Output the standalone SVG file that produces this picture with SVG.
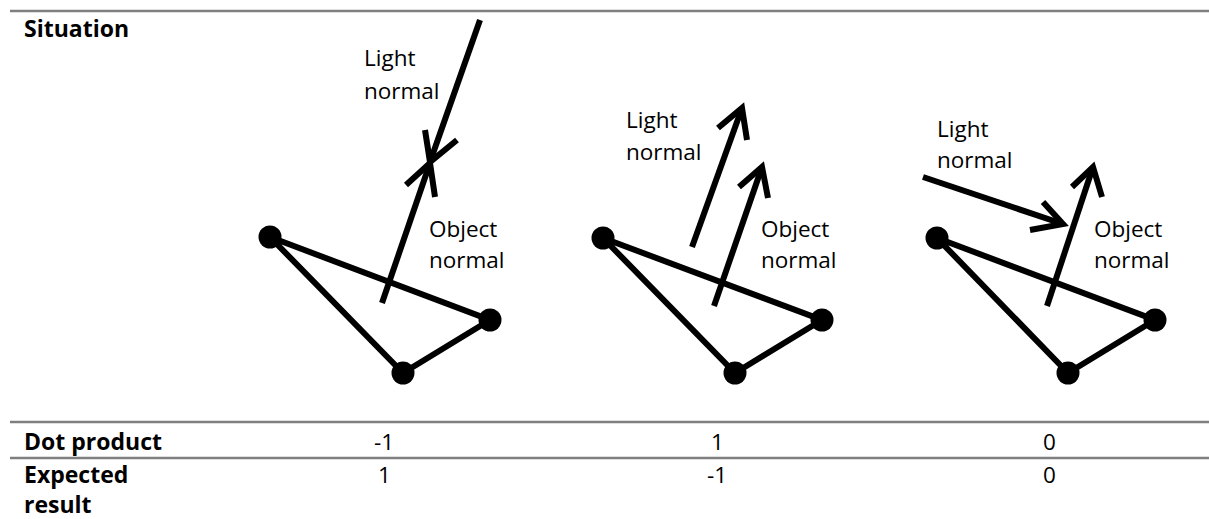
<svg xmlns="http://www.w3.org/2000/svg" width="1209" height="519" viewBox="0 0 1209 519">
<style>
.rule{stroke:#7f7f7f;stroke-width:2.5;fill:none}
.ln{stroke:#000;stroke-width:6;fill:none;stroke-linecap:butt;stroke-linejoin:miter}
.dot{fill:#000}
.t{font-family:"Open Sans","Noto Sans",sans-serif;font-size:22.5px;fill:#000}
.b{font-family:"Open Sans","Noto Sans",sans-serif;font-size:23px;font-weight:bold;fill:#000}
</style>
<rect width="1209" height="519" fill="#fff"/>
<g id="table">
<line class="rule" x1="10" y1="11" x2="1209" y2="11"/>
<line class="rule" x1="10" y1="422" x2="1209" y2="422"/>
<line class="rule" x1="10" y1="458" x2="1209" y2="458"/>
<text class="b" x="24" y="37">Situation</text>
<text class="b" x="24" y="450">Dot product</text>
<text class="b" x="24" y="483">Expected</text>
<text class="b" x="24" y="513">result</text>
<text class="t" x="374" y="450">-1</text>
<text class="t" x="378" y="483">1</text>
<text class="t" x="711" y="450">1</text>
<text class="t" x="707" y="483">-1</text>
<text class="t" x="1043" y="450">0</text>
<text class="t" x="1043" y="483">0</text>
</g>
<g id="situation1">
<g id="triangle1">
<polygon class="ln" points="270,237 490,320 403,373"/>
<circle class="dot" cx="270" cy="237" r="11.5"/>
<circle class="dot" cx="490" cy="320" r="11.5"/>
<circle class="dot" cx="403" cy="373" r="11.5"/>
</g>
<g id="connectors1">
<line class="ln" x1="480" y1="20" x2="430" y2="162"/>
<polyline class="ln" points="425,130 430,162 457,140"/>
<line class="ln" x1="382" y1="303" x2="430" y2="163"/>
<polyline class="ln" points="406,185 430,163 435,197"/>
</g>
<text class="t" x="364" y="66">Light</text>
<text class="t" x="364" y="99">normal</text>
<text class="t" x="429" y="237">Object</text>
<text class="t" x="429" y="268">normal</text>
</g>
<g id="situation2">
<g id="triangle2">
<polygon class="ln" points="603,238 822,320 735,373"/>
<circle class="dot" cx="603" cy="238" r="11.5"/>
<circle class="dot" cx="822" cy="320" r="11.5"/>
<circle class="dot" cx="735" cy="373" r="11.5"/>
</g>
<g id="connectors2">
<line class="ln" x1="692" y1="247" x2="742" y2="108"/>
<polyline class="ln" points="718,128 742,108 747,140"/>
<line class="ln" x1="714" y1="306" x2="762" y2="167"/>
<polyline class="ln" points="739,187 762,167 768,198"/>
</g>
<text class="t" x="626" y="128">Light</text>
<text class="t" x="626" y="160">normal</text>
<text class="t" x="761" y="237">Object</text>
<text class="t" x="761" y="268">normal</text>
</g>
<g id="situation3">
<g id="triangle3">
<polygon class="ln" points="937,238 1155,320 1068,373"/>
<circle class="dot" cx="937" cy="238" r="11.5"/>
<circle class="dot" cx="1155" cy="320" r="11.5"/>
<circle class="dot" cx="1068" cy="373" r="11.5"/>
</g>
<g id="connectors3">
<line class="ln" x1="923" y1="177" x2="1063" y2="224"/>
<polyline class="ln" points="1043,202 1063,224 1030,230"/>
<line class="ln" x1="1047" y1="306" x2="1093" y2="167"/>
<polyline class="ln" points="1072,187 1093,167 1102,197"/>
</g>
<text class="t" x="937" y="137">Light</text>
<text class="t" x="937" y="168">normal</text>
<text class="t" x="1094" y="237">Object</text>
<text class="t" x="1094" y="268">normal</text>
</g>
</svg>
